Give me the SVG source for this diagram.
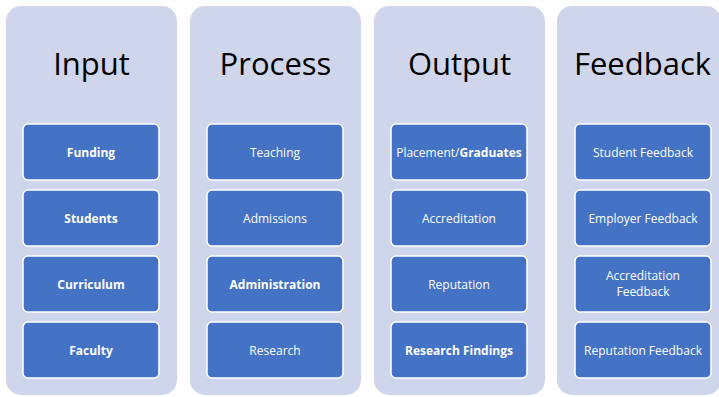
<svg xmlns="http://www.w3.org/2000/svg" width="719" height="397" viewBox="0 0 719 397">
<style>
.col{fill:#cfd5ea}
.box{fill:#4472c4;stroke:#ffffff;stroke-width:1.5}
.title{font-family:"Open Sans","Liberation Sans",sans-serif;font-size:31px;fill:#000;text-anchor:middle}
.lbl{font-family:"Open Sans","Liberation Sans",sans-serif;font-size:12px;fill:#ffffff;text-anchor:middle}
.b{font-weight:bold}
</style>
<rect width="719" height="397" fill="#ffffff"/>
<g id="col-input">
<rect class="col" x="6" y="6" width="171" height="389" rx="15"/>
<text class="title" x="91.5" y="75">Input</text>
<g id="n-funding"><rect class="box" x="23" y="124" width="136" height="56" rx="5"/><text class="lbl b" x="91" y="156.5">Funding</text></g>
<g id="n-students"><rect class="box" x="23" y="190" width="136" height="56" rx="5"/><text class="lbl b" x="91" y="222.5">Students</text></g>
<g id="n-curriculum"><rect class="box" x="23" y="256" width="136" height="56" rx="5"/><text class="lbl b" x="91" y="288.5">Curriculum</text></g>
<g id="n-faculty"><rect class="box" x="23" y="322" width="136" height="56" rx="5"/><text class="lbl b" x="91" y="354.5">Faculty</text></g>
</g>
<g id="col-process">
<rect class="col" x="190" y="6" width="171" height="389" rx="15"/>
<text class="title" x="275.5" y="75">Process</text>
<g id="n-teaching"><rect class="box" x="207" y="124" width="136" height="56" rx="5"/><text class="lbl" x="275" y="156.5">Teaching</text></g>
<g id="n-admissions"><rect class="box" x="207" y="190" width="136" height="56" rx="5"/><text class="lbl" x="275" y="222.5">Admissions</text></g>
<g id="n-administration"><rect class="box" x="207" y="256" width="136" height="56" rx="5"/><text class="lbl b" x="275" y="288.5">Administration</text></g>
<g id="n-research"><rect class="box" x="207" y="322" width="136" height="56" rx="5"/><text class="lbl" x="275" y="354.5">Research</text></g>
</g>
<g id="col-output">
<rect class="col" x="374" y="6" width="171" height="389" rx="15"/>
<text class="title" x="459.5" y="75">Output</text>
<g id="n-placement"><rect class="box" x="391" y="124" width="136" height="56" rx="5"/><text class="lbl" x="459" y="156.5">Placement/<tspan class="b">Graduates</tspan></text></g>
<g id="n-accreditation"><rect class="box" x="391" y="190" width="136" height="56" rx="5"/><text class="lbl" x="459" y="222.5">Accreditation</text></g>
<g id="n-reputation"><rect class="box" x="391" y="256" width="136" height="56" rx="5"/><text class="lbl" x="459" y="288.5">Reputation</text></g>
<g id="n-findings"><rect class="box" x="391" y="322" width="136" height="56" rx="5"/><text class="lbl b" x="459" y="354.5">Research Findings</text></g>
</g>
<g id="col-feedback">
<rect class="col" x="557" y="6" width="164" height="389" rx="15"/>
<text class="title" x="642.5" y="75">Feedback</text>
<g id="n-student-fb"><rect class="box" x="575" y="124" width="136" height="56" rx="5"/><text class="lbl" x="643" y="156.5">Student Feedback</text></g>
<g id="n-employer-fb"><rect class="box" x="575" y="190" width="136" height="56" rx="5"/><text class="lbl" x="643" y="222.5">Employer Feedback</text></g>
<g id="n-accred-fb"><rect class="box" x="575" y="256" width="136" height="56" rx="5"/><text class="lbl" x="643" y="279.5">Accreditation</text><text class="lbl" x="643" y="296">Feedback</text></g>
<g id="n-reputation-fb"><rect class="box" x="575" y="322" width="136" height="56" rx="5"/><text class="lbl" x="643" y="354.5">Reputation Feedback</text></g>
</g>
<g id="connectors"/>
</svg>
